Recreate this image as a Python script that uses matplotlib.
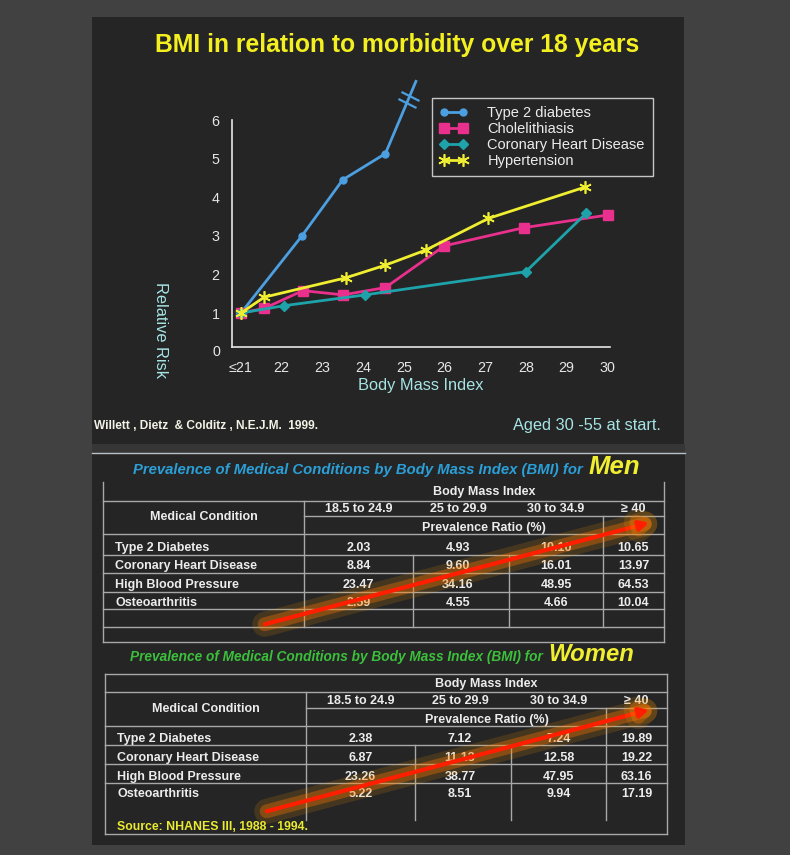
import numpy as np
import matplotlib.pyplot as plt
import matplotlib.patheffects as pe
import matplotlib.transforms as mtransforms
from matplotlib.patches import Rectangle, FancyArrowPatch
from matplotlib.path import Path

plt.rcParams['font.family'] = ['Liberation Sans', 'DejaVu Sans']

W, H = 790, 855

# --- chart data ---
diabetes_bmi = [21, 22.5, 23.5, 24.55]
diabetes_rr = [1.0, 3.0, 4.45, 5.13]
diabetes_off_bmi = 25.3   # line runs off scale (break marks)
diabetes_off_rr = 7.0
gall_bmi = [21, 21.57, 22.52, 23.51, 24.55, 26.0, 27.95, 30.02]
gall_rr = [1.0, 1.12, 1.58, 1.47, 1.66, 2.74, 3.21, 3.54]
chd_bmi = [21, 22.06, 24.05, 28.0, 29.48]
chd_rr = [1.0, 1.19, 1.47, 2.07, 3.58]
hyp_bmi = [21, 21.57, 23.57, 24.55, 25.54, 27.08, 29.45]
hyp_rr = [1.0, 1.41, 1.91, 2.24, 2.63, 3.45, 4.26]

x_ticks = [21, 22, 23, 24, 25, 26, 27, 28, 29, 30]
x_ticklabels = ["≤21", "22", "23", "24", "25", "26", "27", "28", "29", "30"]
y_ticks = [1, 2, 3, 4, 5, 6]

# --- table data ---
conditions = ["Type 2 Diabetes", "Coronary Heart Disease", "High Blood Pressure", "Osteoarthritis"]
bmi_groups = ["18.5 to 24.9", "25 to 29.9", "30 to 34.9", "≥ 40"]
men_values = [[2.03, 4.93, 10.10, 10.65],
              [8.84, 9.60, 16.01, 13.97],
              [23.47, 34.16, 48.95, 64.53],
              [2.59, 4.55, 4.66, 10.04]]
women_values = [[2.38, 7.12, 7.24, 19.89],
                [6.87, 11.13, 12.58, 19.22],
                [23.26, 38.77, 47.95, 63.16],
                [5.22, 8.51, 9.94, 17.19]]

BLUE = '#4c9fe0'
PINK = '#e8308c'
TEAL = '#1fa3aa'
YELLOW = '#f0ee30'
CYAN_TXT = '#a6e4e4'
PANEL = '#252525'
LINE = '#a8a8a8'
TXT = '#ececec'

fig = plt.figure(figsize=(W / 100, H / 100), dpi=100)
fig.patch.set_facecolor('#414141')

# background / overlay axes in pixel coordinates
bg = fig.add_axes([0, 0, 1, 1])
bg.set_xlim(0, W)
bg.set_ylim(H, 0)
bg.axis('off')
bg.set_zorder(0)

bg.add_patch(Rectangle((92, 17), 592, 427, facecolor=PANEL, edgecolor='none'))
bg.add_patch(Rectangle((92, 444), 593, 9, facecolor='#363636', edgecolor='none'))
bg.add_patch(Rectangle((92, 454), 593, 391, facecolor=PANEL, edgecolor='none'))
bg.plot([92, 685], [453, 453], color='#b8c0c8', lw=1)

bg.text(397, 45, "BMI in relation to morbidity over 18 years", color='#f4f020',
        fontsize=17.8, fontweight='bold', ha='center', va='center')
bg.text(94, 426, "Willett , Dietz  & Colditz , N.E.J.M.  1999.", color='#f2f2e6',
        fontsize=8.6, fontweight='bold', ha='left', va='center')
bg.text(513, 425, "Aged 30 -55 at start.", color=CYAN_TXT, fontsize=11.8,
        ha='left', va='center')

# --- line chart ---
ax = fig.add_axes([232 / W, 1 - 347 / H, (610 - 232) / W, (347 - 120) / H])
ax.set_zorder(1)
ax.set_facecolor('none')
ax.set_xlim(20.78, 30.07)
ax.set_ylim(0.12, 6.0)

ax.plot(diabetes_bmi + [diabetes_off_bmi], diabetes_rr + [diabetes_off_rr], color=BLUE,
        lw=2, marker='o', ms=5, markevery=list(range(len(diabetes_bmi))),
        clip_on=False, label='Type 2 diabetes')
ax.plot(gall_bmi, gall_rr, color=PINK, lw=2, marker='s', ms=7.5, clip_on=False,
        label='Cholelithiasis')
ax.plot(chd_bmi, chd_rr, color=TEAL, lw=2, marker='D', ms=5.5, clip_on=False,
        label='Coronary Heart Disease')
ax.plot(hyp_bmi, hyp_rr, color=YELLOW, lw=2, marker=(6, 2, 0), ms=9, mew=1.2,
        clip_on=False, label='Hypertension')

# break marks on the off-scale diabetes segment
t = np.array([0.7, 0.8])
bx = diabetes_bmi[-1] + t * (diabetes_off_bmi - diabetes_bmi[-1])
by = diabetes_rr[-1] + t * (diabetes_off_rr - diabetes_rr[-1])
brk = Path([(-1, 0.5), (1, -0.5)], [Path.MOVETO, Path.LINETO])
ax.plot(bx, by, ls='none', marker=brk, ms=13, mew=1.6, mec=BLUE, clip_on=False)

for s in ['top', 'right']:
    ax.spines[s].set_visible(False)
for s in ['left', 'bottom']:
    ax.spines[s].set_color('#e6e6e6')
    ax.spines[s].set_linewidth(1.2)

ax.set_xticks(x_ticks)
ax.set_xticklabels(x_ticklabels)
ax.set_yticks(y_ticks)
ax.tick_params(length=0, colors='#e6e6e6', labelsize=10.3)
ax.tick_params(axis='x', pad=10)
ax.tick_params(axis='y', pad=9)
ax.text(-0.032, 0, "0", transform=mtransforms.blended_transform_factory(ax.transAxes, ax.transData),
        ha='right', va='center', color='#e6e6e6', fontsize=10.3)

ax.set_xlabel("Body Mass Index", color=CYAN_TXT, fontsize=11.8, va='center')
ax.xaxis.set_label_coords(0.5, -0.168)
ax.set_ylabel("Relative Risk", color=CYAN_TXT, fontsize=11.8, rotation=270, va='center')
ax.yaxis.set_label_coords(-0.188, 0.074)

leg = ax.legend(loc='upper left', bbox_to_anchor=(432 / W, 1 - 98 / H),
                bbox_transform=fig.transFigure, fontsize=10.5, numpoints=2,
                frameon=True, fancybox=False, borderpad=0.55, labelspacing=0.13,
                handlelength=1.9, handletextpad=1.35, borderaxespad=0)
leg.get_frame().set_facecolor(PANEL)
leg.get_frame().set_edgecolor('#f0f0f0')
leg.get_frame().set_linewidth(1)
for txt in leg.get_texts():
    txt.set_color(TXT)


# --- tables ---
def draw_table(xc, top, h1, h2, h3, row_lines, v_end, bottom, ty, row_y, values, top_border):
    L, c1, c2, c3, c4, R = xc
    kw = dict(color=LINE, lw=1)
    if top_border:
        bg.plot([L, R], [top, top], **kw)
    for y in [h1, h3] + row_lines + [bottom]:
        bg.plot([L, R], [y, y], **kw)
    bg.plot([c1, R], [h2, h2], **kw)
    bg.plot([L, L], [top, bottom], **kw)
    bg.plot([R, R], [top, bottom], **kw)
    bg.plot([c1, c1], [h1, v_end], **kw)
    bg.plot([c4, c4], [h2, v_end], **kw)
    for x in (c2, c3):
        bg.plot([x, x], [row_lines[0], v_end], **kw)

    tk = dict(color=TXT, fontsize=9.0, fontweight='bold', va='center')
    centers = [(c1 + c2) / 2, (c2 + c3) / 2 - 3, (c3 + c4) / 2, (c4 + R) / 2]
    y_bmi, y_col, y_mc, y_pr = ty
    bg.text((c1 + R) / 2, y_bmi, "Body Mass Index", ha='center', **tk)
    bg.text((L + c1) / 2, y_mc, "Medical Condition", ha='center', **tk)
    bg.text((c1 + R) / 2, y_pr, "Prevalence Ratio (%)", ha='center', **tk)
    for cx, g in zip(centers, bmi_groups):
        bg.text(cx, y_col, g, ha='center', **tk)
    for yy, cond, vals in zip(row_y, conditions, values):
        bg.text(L + 12, yy, cond, ha='left', **tk)
        for cx, v in zip(centers, vals):
            bg.text(cx, yy, f"{v:.2f}", ha='center', **tk)


def glow_arrow(p0, p1):
    arr = FancyArrowPatch(p0, p1, arrowstyle='-|>', mutation_scale=14, lw=3,
                          color='#ff1e00', zorder=5,
                          path_effects=[pe.Stroke(linewidth=18, foreground='#ff9a00', alpha=0.15),
                                        pe.Stroke(linewidth=10, foreground='#ff7800', alpha=0.35),
                                        pe.Normal()])
    bg.add_patch(arr)


# Men
bg.text(587, 474, "Prevalence of Medical Conditions by Body Mass Index (BMI) for ",
        color='#2a9fd8', fontsize=10.7, fontweight='bold', style='italic', ha='right', va='baseline')
bg.text(589, 474, "Men", color=YELLOW, fontsize=18.5, fontweight='bold', style='italic',
        ha='left', va='baseline')
draw_table([103, 304, 413, 509, 603, 664], 482, 501, 516, 534,
           [555, 573, 592, 609, 627], 627, 642,
           (492, 509, 517, 528), [548, 566, 585, 603], men_values, False)
glow_arrow((262, 625), (652, 522))

# Women
bg.text(546, 661, "Prevalence of Medical Conditions by Body Mass Index (BMI) for ",
        color='#3cc03c', fontsize=9.8, fontweight='bold', style='italic', ha='right', va='baseline')
bg.text(548, 661, "Women", color=YELLOW, fontsize=17.2, fontweight='bold', style='italic',
        ha='left', va='baseline')
draw_table([105, 306, 415, 511, 606, 667], 674, 692, 708, 726,
           [745, 764, 783], 820, 834,
           (684, 701, 709, 720), [739, 758, 777, 794], women_values, True)
bg.text(117, 827, "Source: NHANES III, 1988 - 1994.", color='#eaea30', fontsize=8.8,
        fontweight='bold', ha='left', va='center')
glow_arrow((264, 812), (652, 709))

fig.savefig('out.png', dpi=100, facecolor=fig.get_facecolor())
